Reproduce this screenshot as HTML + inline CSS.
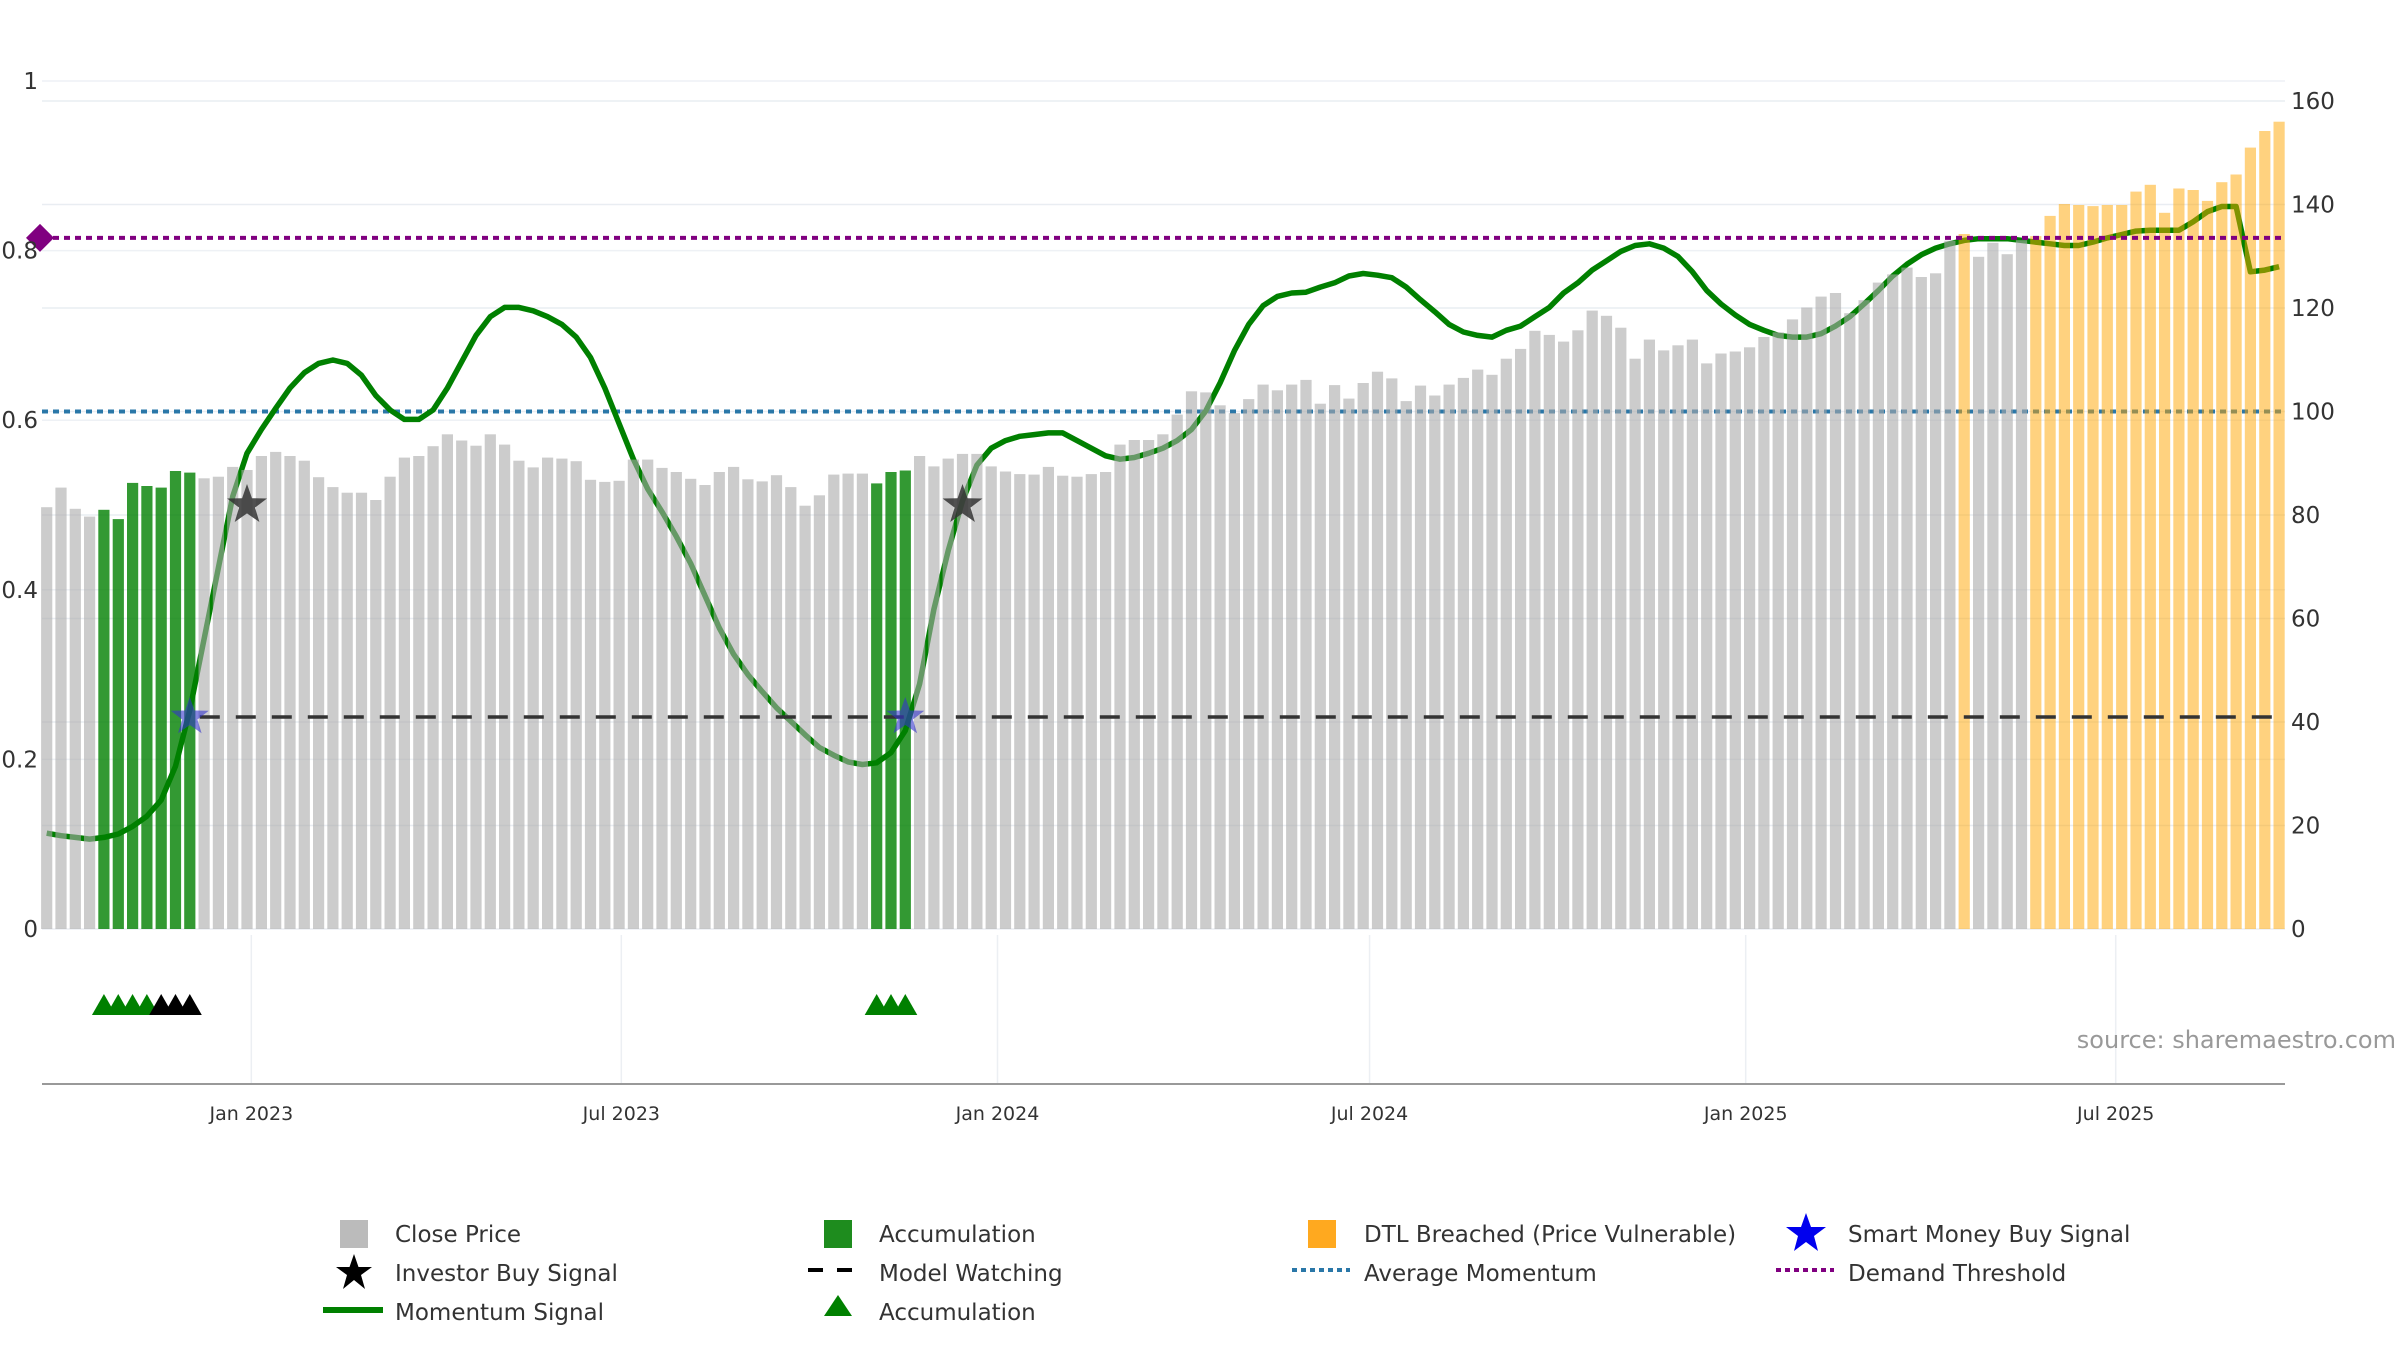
<!DOCTYPE html>
<html><head><meta charset="utf-8">
<style>
html,body{margin:0;padding:0;background:#fff;}
svg{display:block;font-family:"DejaVu Sans","Liberation Sans",sans-serif;}
</style></head>
<body>
<svg id="chart" width="2400" height="1350" viewBox="0 0 2400 1350" xmlns="http://www.w3.org/2000/svg">
<g id="grid"></g>
<g id="refs"></g>
<g id="line"></g>
<g id="bars"></g>
<g id="overlay"></g>
<g id="axes"></g>
<text x="2396" y="1048" text-anchor="end" font-size="24" fill="#999">source: sharemaestro.com</text>
<g id="legend" font-size="23" fill="#333">
  <rect x="340" y="1220" width="28" height="28" fill="#bbb"/>
  <text x="395" y="1242">Close Price</text>
  <polygon points="354,1254 358.5,1267 372,1267 361,1275 365,1289 354,1280 343,1289 347,1275 336,1267 349.5,1267" fill="#000"/>
  <text x="395" y="1281">Investor Buy Signal</text>
  <line x1="323" y1="1310" x2="383" y2="1310" stroke="#008000" stroke-width="6"/>
  <text x="395" y="1320">Momentum Signal</text>

  <rect x="824" y="1220" width="28" height="28" fill="#1e8c1e"/>
  <text x="879" y="1242">Accumulation</text>
  <line x1="808" y1="1270" x2="866" y2="1270" stroke="#000" stroke-width="4" stroke-dasharray="15 14"/>
  <text x="879" y="1281">Model Watching</text>
  <polygon points="838,1295 852,1316 824,1316" fill="#008000"/>
  <text x="879" y="1320">Accumulation</text>

  <rect x="1308" y="1220" width="28" height="28" fill="#ffa91f"/>
  <text x="1364" y="1242">DTL Breached (Price Vulnerable)</text>
  <line x1="1292" y1="1270" x2="1350" y2="1270" stroke="#2a77a8" stroke-width="4" stroke-dasharray="5 4"/>
  <text x="1364" y="1281">Average Momentum</text>

  <polygon points="1806,1213 1811,1227 1826,1227 1814,1236 1818,1251 1806,1242 1794,1251 1798,1236 1786,1227 1801,1227" fill="#0000ee"/>
  <text x="1848" y="1242">Smart Money Buy Signal</text>
  <line x1="1776" y1="1270" x2="1834" y2="1270" stroke="#800080" stroke-width="4" stroke-dasharray="5 4"/>
  <text x="1848" y="1281">Demand Threshold</text>
</g>
</svg>
<script>
// ---- data ----
const closePrices = [81.5,85.3,81.2,79.7,81.0,79.2,86.2,85.6,85.3,88.5,88.2,87.1,87.4,89.3,88.7,91.4,92.2,91.4,90.5,87.3,
85.4,84.3,84.3,82.9,87.4,91.1,91.4,93.3,95.6,94.4,93.4,95.6,93.6,90.5,89.2,91.1,90.9,90.4,86.8,86.4,
86.6,90.7,90.7,89.1,88.3,87.0,85.8,88.3,89.3,86.9,86.5,87.7,85.4,81.8,83.8,87.8,88.0,88.0,86.1,88.3,
88.6,91.4,89.4,90.9,91.8,91.8,89.4,88.4,87.9,87.8,89.3,87.6,87.4,87.9,88.3,93.6,94.5,94.5,95.6,99.4,
103.9,103.7,101.2,99.7,102.4,105.2,104.1,105.2,106.1,101.5,105.1,102.5,105.5,107.7,106.4,102.0,105.0,103.1,105.2,106.5,
108.1,107.1,110.2,112.1,115.6,114.8,113.5,115.7,119.5,118.5,116.2,110.2,113.9,111.8,112.8,113.9,109.3,111.2,111.6,112.4,
114.4,115.3,117.8,120.1,122.2,122.9,119.0,121.5,124.9,126.5,127.8,126.0,126.7,133.0,134.3,129.9,132.6,130.4,133.1,133.9,
137.8,140.1,139.9,139.7,139.9,139.9,142.5,143.8,138.4,143.1,142.8,140.7,144.3,145.8,151.0,154.2,156.0];
const momentum = [0.113,0.110,0.108,0.106,0.108,0.112,0.121,0.133,0.152,0.192,0.258,0.342,0.426,0.510,0.561,0.589,0.614,0.638,0.656,0.667,
0.671,0.667,0.653,0.629,0.612,0.601,0.601,0.612,0.638,0.669,0.700,0.722,0.733,0.733,0.729,0.722,0.713,0.698,0.674,0.638,
0.596,0.554,0.519,0.492,0.463,0.431,0.393,0.355,0.324,0.300,0.280,0.261,0.245,0.229,0.214,0.205,0.197,0.194,0.196,0.208,
0.234,0.289,0.377,0.446,0.505,0.547,0.567,0.576,0.581,0.583,0.585,0.585,0.576,0.567,0.558,0.554,0.556,0.561,0.567,0.576,
0.589,0.611,0.644,0.682,0.713,0.735,0.746,0.750,0.751,0.757,0.762,0.770,0.773,0.771,0.768,0.757,0.742,0.728,0.713,0.704,
0.700,0.698,0.706,0.711,0.722,0.733,0.750,0.762,0.777,0.788,0.799,0.806,0.808,0.803,0.793,0.775,0.753,0.737,0.724,0.713,
0.706,0.700,0.698,0.698,0.702,0.711,0.722,0.737,0.753,0.770,0.784,0.795,0.803,0.808,0.812,0.814,0.814,0.814,0.812,0.810,
0.808,0.806,0.806,0.810,0.815,0.819,0.823,0.824,0.824,0.824,0.834,0.846,0.852,0.852,0.775,0.777,0.781];
const accumulationIdx = [4,5,6,7,8,9,10,58,59,60];
const dtlBreachedIdx = [134,139,140,141,142,143,144,145,146,147,148,149,150,151,152,153,154,155,156];
const accTriGreen = [4,5,6,7,58,59,60];
const accTriBlack = [8,9,10];
const investorBuyIdx = [14,64];
const investorBuyVal = [0.50,0.50];
const smartMoneyIdx = [10,60];
const modelWatchStart = [10];
const modelWatchLevel = [0.25];
const avgMomentum = [100];
const demandThreshold = [0.815];
const leftTicks = [0,0.2,0.4,0.6,0.8,1];
const leftTickLabels = ["0","0.2","0.4","0.6","0.8","1"];
const rightTicks = [0,20,40,60,80,100,120,140,160];
const dateTickDays = [0,181,365,547,731,912];
const dateTickLabels = ["Jan 2023","Jul 2023","Jan 2024","Jul 2024","Jan 2025","Jul 2025"];

// ---- scales ----
const NS='http://www.w3.org/2000/svg';
const X0=46.7, DX=14.31, PL=42, PR=2285, Y0=929;
const xIdx = i => X0 + i*DX;
const xDay = d => xIdx(14.3 + d/7);
const yL = v => Y0 - v*848;
const yR = v => Y0 - v*5.175;
function mk(tag, attrs, parent){const e=document.createElementNS(NS,tag);for(const k in attrs)e.setAttribute(k,attrs[k]);parent.appendChild(e);return e;}
const G=id=>document.getElementById(id);

// gridlines
rightTicks.forEach(t=>{const l=mk('line',{x1:PL,x2:PR,y1:yR(t),y2:yR(t),stroke:'#e9edf2','stroke-width':1.5},G('grid'));

});
leftTicks.forEach(t=>{const l=mk('line',{x1:PL,x2:PR,y1:yL(t),y2:yL(t),stroke:'#eef1f5','stroke-width':1.5},G('grid'));

});
dateTickDays.forEach(d=>{const l=mk('line',{x1:xDay(d),x2:xDay(d),y1:935,y2:1084,stroke:'#eceff3','stroke-width':1.5},G('grid'));

});

// momentum line (under bars)
let d='';momentum.forEach((v,i)=>{d+=(i?'L':'M')+xIdx(i).toFixed(1)+','+yL(v).toFixed(1);});
const ml=mk('path',{d:d,fill:'none',stroke:'#008000','stroke-width':5.5,'stroke-linejoin':'round'},G('line'));



// bars
closePrices.forEach((v,i)=>{
  let fill='#aaaaaa',op=0.6,name='close-price-bar';
  if(accumulationIdx.includes(i)){fill='#008000';op=0.8;name='accumulation-bar';}
  if(dtlBreachedIdx.includes(i)){fill='#ffa500';op=0.5;name='dtl-breached-bar';}
  const r=mk('rect',{x:(xIdx(i)-5.6).toFixed(1),y:yR(v).toFixed(1),width:11.2,height:(Y0-yR(v)).toFixed(1),fill:fill,'fill-opacity':op},G('bars'));
  
  
});

// reference lines
const av=mk('line',{x1:PL,x2:PR,y1:yR(avgMomentum[0]),y2:yR(avgMomentum[0]),stroke:'#2a77a8','stroke-width':4,'stroke-dasharray':'6 5'},G('refs'));


const dt=mk('line',{x1:PL,x2:PR,y1:yL(demandThreshold[0]),y2:yL(demandThreshold[0]),stroke:'#800080','stroke-width':4,'stroke-dasharray':'6 5'},G('overlay'));


const dy=yL(demandThreshold[0]);
const dm=mk('polygon',{points:`${PL-2},${dy-14} ${PL+12},${dy} ${PL-2},${dy+14} ${PL-16},${dy}`,fill:'#800080'},G('overlay'));


const mw=mk('line',{x1:xIdx(modelWatchStart[0])+10,x2:PR-8,y1:yL(modelWatchLevel[0]),y2:yL(modelWatchLevel[0]),stroke:'#333','stroke-width':3.5,'stroke-dasharray':'20 16'},G('overlay'));



function star(cx,cy,R){const p=[];for(let k=0;k<10;k++){const r=k%2?R*0.4:R;const a=-Math.PI/2+k*Math.PI/5;p.push((cx+r*Math.cos(a)).toFixed(1)+','+(cy+r*Math.sin(a)).toFixed(1));}return p.join(' ');}
smartMoneyIdx.forEach(i=>{const s=mk('polygon',{points:star(xIdx(i),yL(modelWatchLevel[0]),20),fill:'#3333cc','fill-opacity':0.6},G('overlay'));

});
investorBuyIdx.forEach((i,k)=>{const s=mk('polygon',{points:star(xIdx(i),yL(investorBuyVal[k]),21),fill:'#333','fill-opacity':0.85},G('overlay'));

});

// triangles in lower panel
function tri(i,col){const cx=xIdx(i),cy=1006;const t=mk('polygon',{points:`${cx},${cy-12} ${cx+12},${cy+9} ${cx-12},${cy+9}`,fill:col},G('overlay'));

}
accTriGreen.forEach(i=>tri(i,'#008000'));
accTriBlack.forEach(i=>tri(i,'#000'));

// axes
const ax=mk('line',{x1:PL,x2:PR,y1:1084,y2:1084,stroke:'#999','stroke-width':2},G('axes'));


leftTicks.forEach((t,k)=>{const tx=mk('text',{x:38,y:yL(t)+8,'text-anchor':'end','font-size':23,fill:'#333'},G('axes'));tx.textContent=leftTickLabels[k];

});
rightTicks.forEach(t=>{const tx=mk('text',{x:2291,y:yR(t)+8,'font-size':23,fill:'#333'},G('axes'));tx.textContent=String(t);

});
dateTickDays.forEach((dd,k)=>{const tx=mk('text',{x:xDay(dd),y:1120,'text-anchor':'middle','font-size':19,fill:'#333'},G('axes'));tx.textContent=dateTickLabels[k];

});
</script>
</body></html>
